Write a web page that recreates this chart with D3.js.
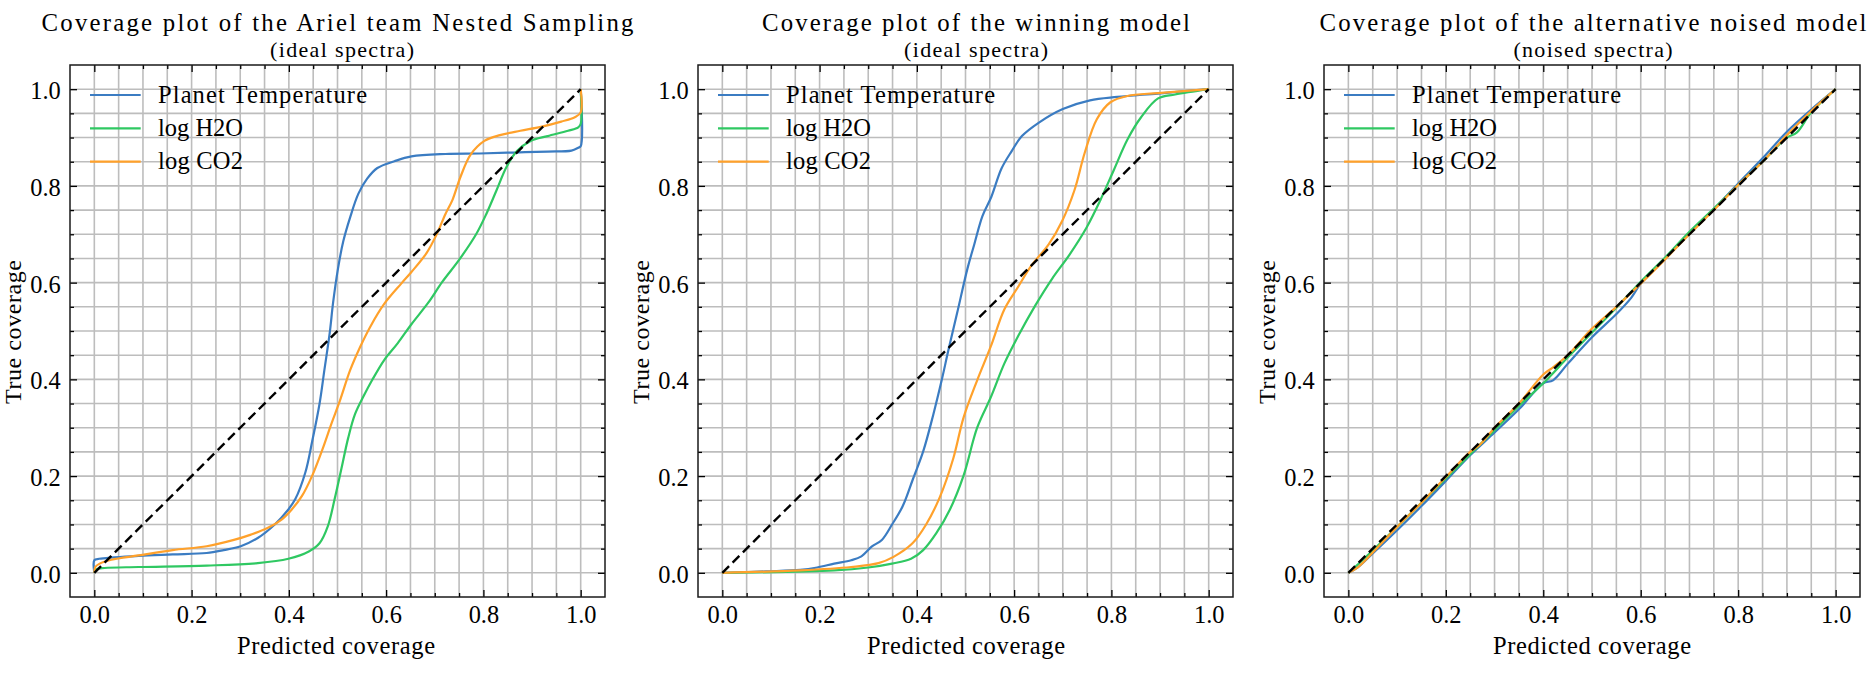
<!DOCTYPE html>
<html>
<head>
<meta charset="utf-8">
<script src="https://cdn.jsdelivr.net/npm/d3@7"></script>
<style>
body { margin: 0; background: #fff; }
text { font-family: "Liberation Serif", "Times New Roman", serif; fill: #000; }
</style>
</head>
<body>
<div id="chart"></div>
<script>
// tick values and labels
var majorTicks = [0, 0.2, 0.4, 0.6, 0.8, 1.0];
var tickLabels = ["0.0", "0.2", "0.4", "0.6", "0.8", "1.0"];
var minorTicks = d3.range(0, 21).map(function(i){ return i / 20; });

var seriesNames = ["Planet Temperature", "log H2O", "log CO2"];
var seriesColors = ["#3b7cc2", "#2fc862", "#ffa12b"];

var panelTitles = ["Coverage plot of the Ariel team Nested Sampling",
                   "Coverage plot of the winning model",
                   "Coverage plot of the alternative noised model"];
var panelSubtitles = ["(ideal spectra)", "(ideal spectra)", "(noised spectra)"];

// [predicted coverage, true coverage]
var arielTemp = [[0,0],[0,0.026],[0.01,0.029],[0.091,0.035],[0.161,0.038],[0.231,0.041],[0.266,0.047],
  [0.301,0.055],[0.336,0.072],[0.371,0.1],[0.399,0.131],[0.413,0.152],[0.434,0.208],[0.448,0.272],
  [0.463,0.349],[0.473,0.419],[0.484,0.496],[0.491,0.559],[0.501,0.629],[0.512,0.686],[0.526,0.735],
  [0.543,0.784],[0.561,0.815],[0.582,0.837],[0.617,0.851],[0.652,0.861],[0.722,0.866],[0.792,0.867],
  [0.862,0.869],[0.932,0.871],[0.981,0.873],[0.995,0.879],[1,0.882],[1,1]];
var arielH2O = [[0,0],[0.004,0.007],[0.021,0.01],[0.091,0.012],[0.231,0.015],[0.336,0.02],[0.399,0.029],
  [0.441,0.044],[0.463,0.061],[0.48,0.096],[0.494,0.152],[0.508,0.215],[0.522,0.279],[0.536,0.328],
  [0.554,0.366],[0.571,0.398],[0.596,0.44],[0.624,0.475],[0.652,0.514],[0.687,0.559],[0.715,0.601],
  [0.75,0.647],[0.785,0.7],[0.806,0.742],[0.827,0.791],[0.848,0.84],[0.869,0.872],[0.897,0.893],
  [0.932,0.903],[0.974,0.914],[0.995,0.921],[1,0.928],[1,1]];
var arielCO2 = [[0,0],[0.002,0.012],[0.011,0.019],[0.035,0.027],[0.091,0.036],[0.161,0.047],[0.231,0.055],
  [0.287,0.068],[0.322,0.079],[0.357,0.093],[0.385,0.11],[0.406,0.131],[0.427,0.159],[0.448,0.201],
  [0.47,0.258],[0.487,0.307],[0.505,0.356],[0.526,0.419],[0.547,0.468],[0.568,0.51],[0.596,0.556],
  [0.631,0.598],[0.652,0.622],[0.683,0.661],[0.704,0.7],[0.722,0.742],[0.736,0.77],[0.753,0.819],
  [0.774,0.865],[0.802,0.893],[0.834,0.905],[0.876,0.914],[0.918,0.922],[0.96,0.933],[0.988,0.942],
  [1,0.952],[1,1]];

var winTemp = [[0,0],[0.09,0.003],[0.16,0.006],[0.195,0.011],[0.23,0.019],[0.265,0.026],[0.286,0.034],
  [0.307,0.054],[0.328,0.068],[0.349,0.1],[0.371,0.138],[0.392,0.194],[0.413,0.251],[0.434,0.328],
  [0.451,0.398],[0.465,0.461],[0.483,0.538],[0.504,0.629],[0.518,0.679],[0.535,0.738],[0.553,0.777],
  [0.574,0.836],[0.595,0.872],[0.616,0.903],[0.651,0.931],[0.7,0.959],[0.756,0.977],[0.812,0.984],
  [0.896,0.991],[1,1]];
var winH2O = [[0,0],[0.23,0.005],[0.3,0.011],[0.349,0.019],[0.388,0.029],[0.413,0.047],[0.44,0.082],
  [0.468,0.131],[0.496,0.201],[0.524,0.3],[0.552,0.363],[0.58,0.433],[0.608,0.489],[0.643,0.552],
  [0.678,0.608],[0.714,0.658],[0.749,0.714],[0.777,0.77],[0.805,0.833],[0.833,0.896],[0.861,0.942],
  [0.896,0.981],[0.931,0.989],[1,1]];
var winCO2 = [[0,0],[0.16,0.005],[0.265,0.012],[0.321,0.02],[0.352,0.033],[0.391,0.061],[0.419,0.1],
  [0.447,0.156],[0.475,0.237],[0.496,0.321],[0.524,0.398],[0.552,0.468],[0.58,0.545],[0.608,0.591],
  [0.636,0.636],[0.671,0.679],[0.699,0.728],[0.724,0.791],[0.745,0.868],[0.77,0.938],[0.798,0.973],
  [0.833,0.986],[0.896,0.992],[1,1]];

var noisedTemp = [[0,0],[0.02,0.012],[0.05,0.04],[0.1,0.088],[0.15,0.138],[0.2,0.19],[0.25,0.243],
  [0.3,0.29],[0.35,0.338],[0.4,0.392],[0.42,0.398],[0.45,0.432],[0.5,0.487],[0.55,0.535],[0.58,0.568],
  [0.6,0.598],[0.65,0.65],[0.7,0.703],[0.75,0.752],[0.8,0.805],[0.85,0.857],[0.9,0.912],[0.95,0.958],[1,1]];
var noisedH2O = [[0,0],[0.03,0.027],[0.1,0.095],[0.15,0.145],[0.2,0.195],[0.25,0.245],[0.3,0.295],
  [0.35,0.345],[0.4,0.392],[0.45,0.445],[0.5,0.497],[0.55,0.548],[0.6,0.602],[0.65,0.652],[0.7,0.705],
  [0.75,0.753],[0.8,0.802],[0.85,0.85],[0.9,0.9],[0.92,0.91],[0.95,0.952],[1,1]];
var noisedCO2 = [[0,0],[0.02,0.012],[0.05,0.042],[0.1,0.095],[0.15,0.145],[0.2,0.198],[0.25,0.25],
  [0.27,0.265],[0.3,0.3],[0.35,0.35],[0.4,0.41],[0.42,0.425],[0.45,0.45],[0.5,0.505],[0.55,0.55],
  [0.6,0.598],[0.65,0.648],[0.7,0.7],[0.75,0.75],[0.8,0.802],[0.85,0.85],[0.9,0.905],[0.95,0.955],[1,1]];

var diagonal = [[0,0],[1,1]];

var panelSeries = [[arielTemp, arielH2O, arielCO2],
                   [winTemp, winH2O, winCO2],
                   [noisedTemp, noisedH2O, noisedCO2]];

function init(){
	var W = 1874, H = 674;
	var top = 65, ph = 532;
	// layout of each panel
	var panels = [
		{left: 70,   w: 535, titleX: 337.5, subX: 342,  tl: 592, sl: 144, xl: 336},
		{left: 698,  w: 535, titleX: 976,   subX: 976,  tl: 428, sl: 144, xl: 966},
		{left: 1324, w: 536, titleX: 1593,  subX: 1593, tl: 547, sl: 159, xl: 1592}
	];

	var svg = d3.select("#chart")
				.append("svg")
				.attr("width", W)
				.attr("height", H);

	panels.forEach(function(p, i){
		var x = d3.scaleLinear().domain([-0.05, 1.05]).range([0, p.w]);
		var y = d3.scaleLinear().domain([-0.05, 1.05]).range([ph, 0]);

		var g = svg.append("g").attr("transform", "translate(" + p.left + "," + top + ")");

		// grid at every minor step
		g.selectAll(".gx").data(minorTicks).enter().append("line")
			.attr("x1", function(d){ return x(d); }).attr("x2", function(d){ return x(d); })
			.attr("y1", 0).attr("y2", ph)
			.attr("stroke", "#bdbdbd").attr("stroke-width", 1.6);
		g.selectAll(".gy").data(minorTicks).enter().append("line")
			.attr("y1", function(d){ return y(d); }).attr("y2", function(d){ return y(d); })
			.attr("x1", 0).attr("x2", p.w)
			.attr("stroke", "#bdbdbd").attr("stroke-width", 1.6);

		var line = d3.line()
			.x(function(d){ return x(d[0]); })
			.y(function(d){ return y(d[1]); })
			.curve(d3.curveCatmullRom.alpha(0.5));

		panelSeries[i].forEach(function(s, k){
			g.append("path").datum(s)
				.attr("d", line)
				.attr("fill", "none")
				.attr("stroke", seriesColors[k])
				.attr("stroke-width", 2.2)
				.attr("stroke-linejoin", "round");
		});

		g.append("path").datum(diagonal)
			.attr("d", d3.line().x(function(d){ return x(d[0]); }).y(function(d){ return y(d[1]); }))
			.attr("fill", "none")
			.attr("stroke", "#000")
			.attr("stroke-width", 2.4)
			.attr("stroke-dasharray", "9.5,5");

		// ticks: inward, on all four sides
		var minorOnly = minorTicks.filter(function(d){ return Math.round(d * 20) % 4 != 0; });
		function ticksOn(axisFn, tr, vals, len, labels){
			var a = axisFn.tickValues(vals).tickSizeInner(-len).tickSizeOuter(0)
				.tickFormat(labels ? function(d, j){ return tickLabels[j]; } : "");
			var ag = g.append("g").attr("transform", tr).call(a);
			ag.select(".domain").remove();
			ag.selectAll("line").attr("stroke", "#000").attr("stroke-width", 1.3);
			ag.attr("font-family", null).attr("font-size", null);
			return ag;
		}
		var bx = ticksOn(d3.axisBottom(x).tickPadding(9), "translate(0," + ph + ")", majorTicks, 7, true);
		ticksOn(d3.axisBottom(x), "translate(0," + ph + ")", minorOnly, 4, false);
		ticksOn(d3.axisTop(x), "translate(0,0)", majorTicks, 7, false);
		ticksOn(d3.axisTop(x), "translate(0,0)", minorOnly, 4, false);
		var ly = ticksOn(d3.axisLeft(y).tickPadding(9.3), "translate(0,0)", majorTicks, 7, true);
		ticksOn(d3.axisLeft(y), "translate(0,0)", minorOnly, 4, false);
		ticksOn(d3.axisRight(y), "translate(" + p.w + ",0)", majorTicks, 7, false);
		ticksOn(d3.axisRight(y), "translate(" + p.w + ",0)", minorOnly, 4, false);
		bx.selectAll("text").style("font-size", "24.4px");
		ly.selectAll("text").style("font-size", "24.4px").attr("dy", "0.39em");

		// frame
		g.append("rect").attr("x", 0).attr("y", 0).attr("width", p.w).attr("height", ph)
			.attr("fill", "none").attr("stroke", "#1a1a1a").attr("stroke-width", 1.5);

		// legend
		seriesNames.forEach(function(name, k){
			var ly0 = 30 + k * 33.3;
			g.append("line")
				.attr("x1", 20).attr("x2", 70.7)
				.attr("y1", ly0).attr("y2", ly0)
				.attr("stroke", seriesColors[k]).attr("stroke-width", 2.2);
			g.append("text")
				.attr("x", 88).attr("y", ly0 + 7.8)
				.attr("textLength", k == 0 ? 209 : 85).attr("lengthAdjust", "spacing")
				.style("font-size", "24.5px")
				.text(name);
		});

		// titles
		svg.append("text")
			.attr("x", p.titleX).attr("y", 31)
			.attr("text-anchor", "middle")
			.attr("textLength", p.tl).attr("lengthAdjust", "spacing")
			.style("font-size", "24.8px")
			.text(panelTitles[i]);
		svg.append("text")
			.attr("x", p.subX).attr("y", 56.5)
			.attr("text-anchor", "middle")
			.attr("textLength", p.sl).attr("lengthAdjust", "spacing")
			.style("font-size", "22px")
			.text(panelSubtitles[i]);

		// axis labels
		svg.append("text")
			.attr("x", p.xl).attr("y", 654)
			.attr("text-anchor", "middle")
			.attr("textLength", 198).attr("lengthAdjust", "spacing")
			.style("font-size", "24.5px")
			.text("Predicted coverage");
		svg.append("text")
			.attr("transform", "translate(" + (p.left - 49) + "," + (top + ph / 2 + 1) + ") rotate(-90)")
			.attr("text-anchor", "middle")
			.attr("textLength", 144).attr("lengthAdjust", "spacing")
			.style("font-size", "24px")
			.text("True coverage");
	});
}
window.onload = init;
</script>
</body>
</html>
